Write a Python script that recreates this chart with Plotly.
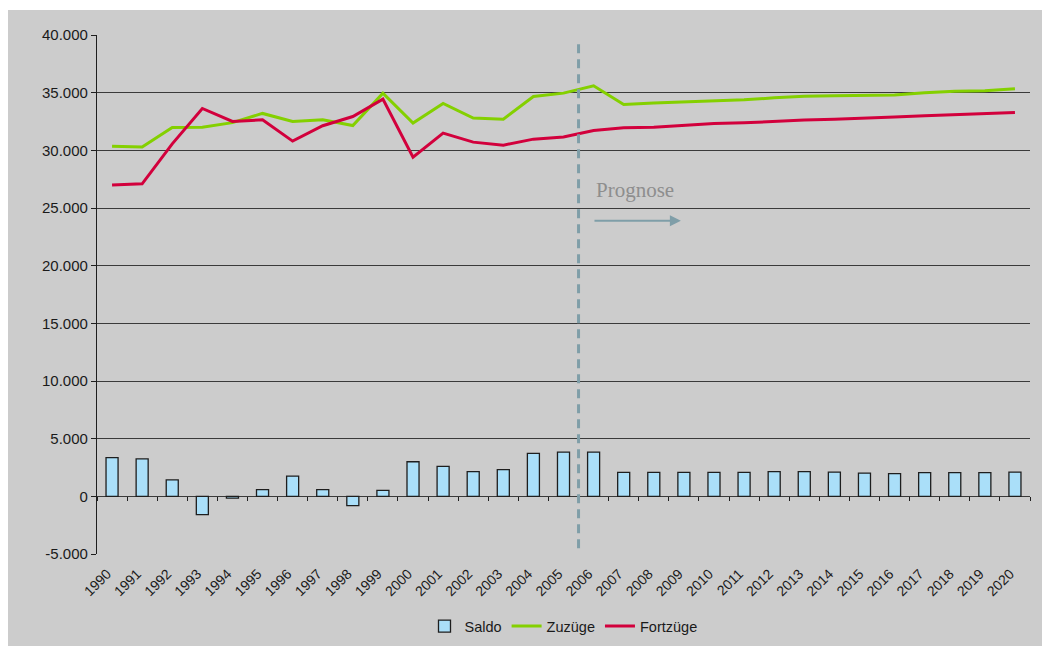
import plotly.graph_objects as go

# Jahre (Kategorien der x-Achse)
jahre = [str(j) for j in range(1990, 2021)]

# Zuzüge pro Jahr (ab 2006 Prognose)
zuzuege = [30350, 30280, 31980, 32000, 32400, 33200, 32500, 32650, 32150, 34960,
           32360, 34060, 32800, 32700, 34670, 34960, 35600, 33970, 34100, 34180,
           34270, 34380, 34550, 34700, 34730, 34750, 34790, 35000, 35130, 35160,
           35330]

# Fortzüge pro Jahr
fortzuege = [27000, 27100, 30560, 33630, 32500, 32650, 30800, 32130, 32930, 34440,
             29410, 31490, 30710, 30450, 30970, 31150, 31720, 31950, 32000, 32180,
             32330, 32390, 32530, 32620, 32700, 32760, 32880, 32990, 33080, 33190,
             33280]

# Saldo (Zuzüge minus Fortzüge)
saldo = [3350, 3240, 1420, -1590, -150, 580, 1760, 580, -800, 520,
         3000, 2600, 2140, 2310, 3730, 3840, 3840, 2080, 2080, 2080,
         2080, 2080, 2140, 2140, 2100, 2020, 1970, 2050, 2050, 2050,
         2100]

# Beschriftung der y-Achse
y_werte = [-5000, 0, 5000, 10000, 15000, 20000, 25000, 30000, 35000, 40000]
y_text = ["-5.000", "0", "5.000", "10.000", "15.000", "20.000", "25.000",
          "30.000", "35.000", "40.000"]

schrift = "Liberation Sans, Arial, sans-serif"

fig = go.Figure()

# Saldo als Säulen (auf der Hilfsachse x2, die an der Nulllinie liegt)
fig.add_trace(go.Bar(x=jahre, y=saldo, name="Saldo", xaxis="x2",
                     marker=dict(color="#aadff9", line=dict(color="#1e1e1e", width=1.3))))

# Zuzüge und Fortzüge als Linien
fig.add_trace(go.Scatter(x=jahre, y=zuzuege, name="Zuzüge", mode="lines",
                         line=dict(color="#84d000", width=3)))
fig.add_trace(go.Scatter(x=jahre, y=fortzuege, name="Fortzüge", mode="lines",
                         line=dict(color="#d2003c", width=3)))

# Gestrichelte Linie: Beginn der Prognose
fig.add_shape(type="line", xref="x", yref="y", x0=15.5, x1=15.5, y0=-4500, y1=39600,
              line=dict(color="#7f9ea8", width=3, dash="9px,6px"))

# Text "Prognose" mit Pfeil
fig.add_annotation(x=16, y=26600, xref="x", yref="y", text="Prognose",
                   showarrow=False, xanchor="left", yanchor="middle",
                   font=dict(family="Liberation Serif, Times New Roman, serif",
                             size=21, color="#8e8e8e"))
fig.add_annotation(x=18.9, y=23900, ax=15.98, ay=23900, xref="x", yref="y",
                   axref="x", ayref="y", text="", showarrow=True,
                   arrowhead=2, arrowsize=1.1, arrowwidth=2, arrowcolor="#7f9ea8")

# Grauer Hintergrund
fig.add_shape(type="rect", xref="paper", yref="paper", x0=-0.2, x1=1.1,
              y0=-0.3, y1=1.048, fillcolor="#cccccc", line=dict(width=0),
              layer="below")

fig.update_layout(
    width=1042, height=638,
    margin=dict(l=89, r=20, t=27, b=92, autoexpand=False),
    paper_bgcolor="white",
    plot_bgcolor="rgba(0,0,0,0)",
    font=dict(family=schrift, color="#1a1a1a"),
    bargap=0.6,
    showlegend=True,
    legend=dict(orientation="h", x=0.5, xanchor="center", y=-0.139, yanchor="middle",
                font=dict(size=14.5), bgcolor="rgba(0,0,0,0)", traceorder="normal",
                itemwidth=30, tracegroupgap=0),
    xaxis=dict(type="category", categoryorder="array", categoryarray=jahre,
               range=[-0.5, 30.5], tickangle=-45, ticks="", showgrid=False,
               showline=False, tickfont=dict(size=14), anchor="y",
               ticklabelstandoff=8, ticklabelshift=-5),
    xaxis2=dict(type="category", categoryorder="array", categoryarray=jahre,
                range=[-0.5, 30.5], overlaying="x", anchor="free",
                position=5000 / 45000, side="bottom", showticklabels=False,
                ticks="outside", tickson="boundaries", ticklen=4, tickwidth=1.3,
                tickcolor="#1e1e1e", showgrid=False, showline=False),
    yaxis=dict(range=[-5000, 40000], tickvals=y_werte, ticktext=y_text,
               showgrid=True, gridcolor="#3a3a3a", gridwidth=1, zeroline=False,
               showline=True, linecolor="#1e1e1e", linewidth=1.3,
               ticks="outside", ticklen=5, tickcolor="#1e1e1e",
               tickfont=dict(size=15)),
)

fig.write_html("out.html")
